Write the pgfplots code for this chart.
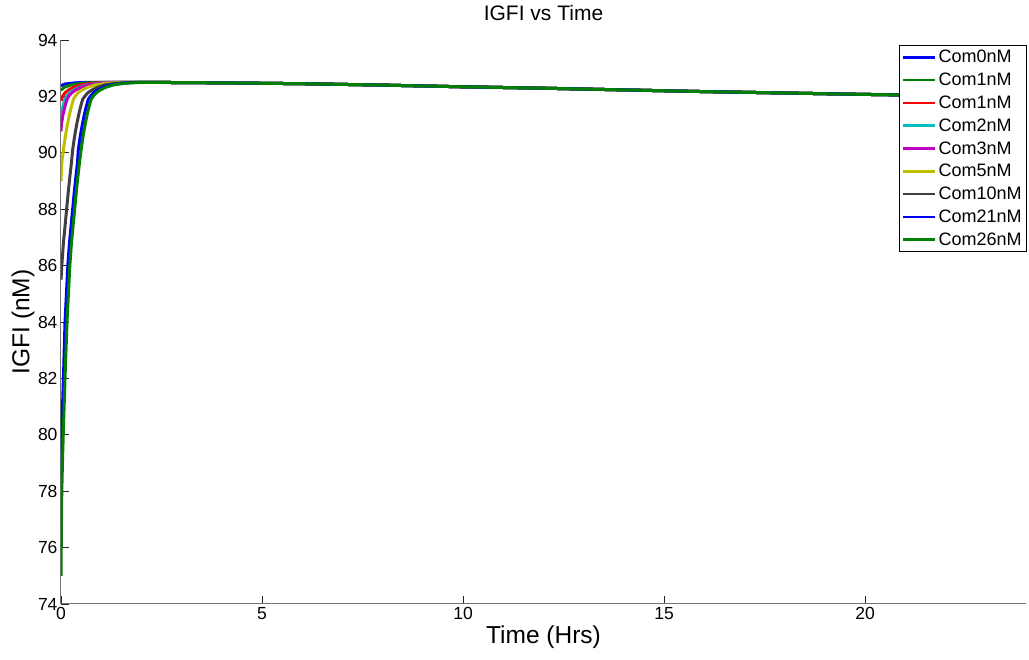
\documentclass[border=0pt]{standalone}
\usepackage{pgfplots}
\pgfplotsset{compat=1.18}
\usepackage{fontspec}
\setmainfont{Liberation Sans}
\definecolor{mblue}{rgb}{0,0,1}
\definecolor{mgreen}{rgb}{0,0.5,0}
\definecolor{mred}{rgb}{1,0,0}
\definecolor{mcyan}{rgb}{0,0.75,0.75}
\definecolor{mmag}{rgb}{0.75,0,0.75}
\definecolor{myel}{rgb}{0.75,0.75,0}
\definecolor{mgray}{rgb}{0.25,0.25,0.25}
\definecolor{axgray}{rgb}{0.45,0.45,0.45}
\begin{document}
\begin{tikzpicture}
\useasboundingbox (-61pt,-56pt) rectangle (968pt,604pt);
\begin{axis}[
  scale only axis,
  width=965pt, height=564pt,
  xmin=0, xmax=24, ymin=74, ymax=94,
  xtick={0,5,10,15,20}, ytick={74,76,...,94},
  axis x line=bottom, axis y line=left,
  axis line style={axgray, line width=1pt, -},
  tick align=inside, major tick length=8pt,
  tick style={black!85, line width=0.9pt},
  /pgf/number format/assume math mode=true,
  tick label style={font=\fontsize{17.5}{20}\selectfont},
  title={IGFI vs Time},
  title style={font=\fontsize{21}{25}\selectfont, at={(axis description cs:0.5,1.037)}, anchor=center},
  xlabel={Time (Hrs)},
  ylabel={IGFI (nM)},
  xlabel style={font=\fontsize{24.5}{28}\selectfont, at={(axis description cs:0.5,-0.0585)}, anchor=center},
  ylabel style={font=\fontsize{24.5}{28}\selectfont, at={(axis description cs:-0.0394,0.5)}, anchor=center, rotate=0},
  every axis plot/.append style={line width=3pt},
  legend style={at={(axis description cs:1,1)}, anchor=north east, xshift=1pt, yshift=-5pt,
    draw=black, line width=0.8pt, fill=white, font=\fontsize{18}{21}\selectfont,
    row sep=4.7pt, inner sep=3pt},
  legend cell align=left,
  legend image code/.code={\draw[#1, line width=2.5pt] (0pt,0pt) -- (32pt,0pt);},
]
% Com0nM
\addplot[mblue] coordinates {(0,92.38) (0.1,92.44) (0.35,92.48) (0.7,92.5) (2,92.5) (4,92.48) (6,92.45) (8,92.40) (10,92.34) (12,92.29) (14,92.23) (16,92.17) (18,92.12) (20,92.07) (22,92.03) (24,91.99)};
\addlegendentry{Com0nM}
% Com1nM
\addplot[mgreen] coordinates {(0,92.22) (0.08,92.32) (0.25,92.41) (0.55,92.47) (0.95,92.5) (2,92.5) (4,92.48) (6,92.45) (8,92.40) (10,92.34) (12,92.29) (14,92.23) (16,92.17) (18,92.12) (20,92.07) (22,92.03) (24,91.99)};
\addlegendentry{Com1nM}
% Com1nM red
\addplot[mred] coordinates {(0,91.84) (0.04,92.0) (0.1,92.13) (0.18,92.22) (0.3,92.32) (0.5,92.41) (0.8,92.47) (1.2,92.5) (2,92.5) (4,92.48) (6,92.45) (8,92.40) (10,92.34) (12,92.29) (14,92.23) (16,92.17) (18,92.12) (20,92.07) (22,92.03) (24,91.99)};
\addlegendentry{Com1nM}
% Com2nM
\addplot[mcyan] coordinates {(0,91.25) (0.02,91.4) (0.05,91.65) (0.1,91.9) (0.15,92.02) (0.22,92.13) (0.31,92.22) (0.45,92.32) (0.65,92.41) (0.95,92.47) (1.35,92.5) (2,92.5) (4,92.48) (6,92.45) (8,92.40) (10,92.34) (12,92.29) (14,92.23) (16,92.17) (18,92.12) (20,92.07) (22,92.03) (24,91.99)};
\addlegendentry{Com2nM}
% Com3nM
\addplot[mmag] coordinates {(0,90.76) (0.01,91.0) (0.05,91.35) (0.1,91.65) (0.15,91.9) (0.2,92.02) (0.27,92.13) (0.36,92.22) (0.5,92.32) (0.7,92.41) (1.0,92.47) (1.4,92.5) (2,92.5) (4,92.48) (6,92.45) (8,92.40) (10,92.34) (12,92.29) (14,92.23) (16,92.17) (18,92.12) (20,92.07) (22,92.03) (24,91.99)};
\addlegendentry{Com3nM}
% Com5nM
\addplot[myel] coordinates {(0,89.0) (0.02,89.65) (0.06,90.1) (0.11,90.6) (0.16,91.0) (0.21,91.35) (0.26,91.65) (0.31,91.9) (0.36,92.02) (0.43,92.13) (0.52,92.22) (0.66,92.32) (0.86,92.41) (1.16,92.47) (1.56,92.5) (2,92.5) (4,92.48) (6,92.45) (8,92.40) (10,92.34) (12,92.29) (14,92.23) (16,92.17) (18,92.12) (20,92.07) (22,92.03) (24,91.99)};
\addlegendentry{Com5nM}
% Com10nM
\addplot[mgray] coordinates {(0,85.5) (0.02,86.0) (0.06,86.8) (0.10,87.4) (0.14,88.0) (0.18,88.6) (0.22,89.15) (0.26,89.65) (0.29,90.1) (0.34,90.6) (0.39,91.0) (0.44,91.35) (0.49,91.65) (0.54,91.9) (0.6,92.02) (0.67,92.13) (0.76,92.22) (0.9,92.32) (1.1,92.41) (1.4,92.47) (1.8,92.5) (2,92.5) (4,92.48) (6,92.45) (8,92.40) (10,92.34) (12,92.29) (14,92.23) (16,92.17) (18,92.12) (20,92.07) (22,92.03) (24,91.99)};
\addlegendentry{Com10nM}
% Com21nM
\addplot[mblue] coordinates {(0,78.5) (0.01,79.4) (0.02,80.0) (0.04,81.1) (0.06,82.0) (0.08,83.0) (0.10,84.0) (0.135,85.0) (0.17,86.0) (0.21,86.8) (0.25,87.4) (0.29,88.0) (0.33,88.6) (0.37,89.15) (0.41,89.65) (0.43,90.1) (0.48,90.6) (0.53,91.0) (0.58,91.35) (0.63,91.65) (0.68,91.9) (0.74,92.02) (0.81,92.13) (0.9,92.22) (1.04,92.32) (1.24,92.41) (1.54,92.47) (1.94,92.5) (4,92.48) (6,92.45) (8,92.40) (10,92.34) (12,92.29) (14,92.23) (16,92.17) (18,92.12) (20,92.07) (22,92.03) (24,91.99)};
\addlegendentry{Com21nM}
% Com26nM
\addplot[mgreen] coordinates {(0,75.0) (0.01,76.6) (0.02,78.0) (0.04,79.2) (0.06,80.2) (0.08,81.1) (0.10,82.0) (0.125,83.0) (0.15,84.0) (0.185,85.0) (0.22,86.0) (0.26,86.8) (0.30,87.4) (0.34,88.0) (0.38,88.6) (0.42,89.15) (0.46,89.65) (0.50,90.1) (0.55,90.6) (0.60,91.0) (0.65,91.35) (0.70,91.65) (0.75,91.9) (0.81,92.02) (0.88,92.13) (0.97,92.22) (1.11,92.32) (1.31,92.41) (1.61,92.47) (2.0,92.5) (4,92.48) (6,92.45) (8,92.40) (10,92.34) (12,92.29) (14,92.23) (16,92.17) (18,92.12) (20,92.07) (22,92.03) (24,91.99)};
\addlegendentry{Com26nM}
\end{axis}
\end{tikzpicture}
\end{document}
